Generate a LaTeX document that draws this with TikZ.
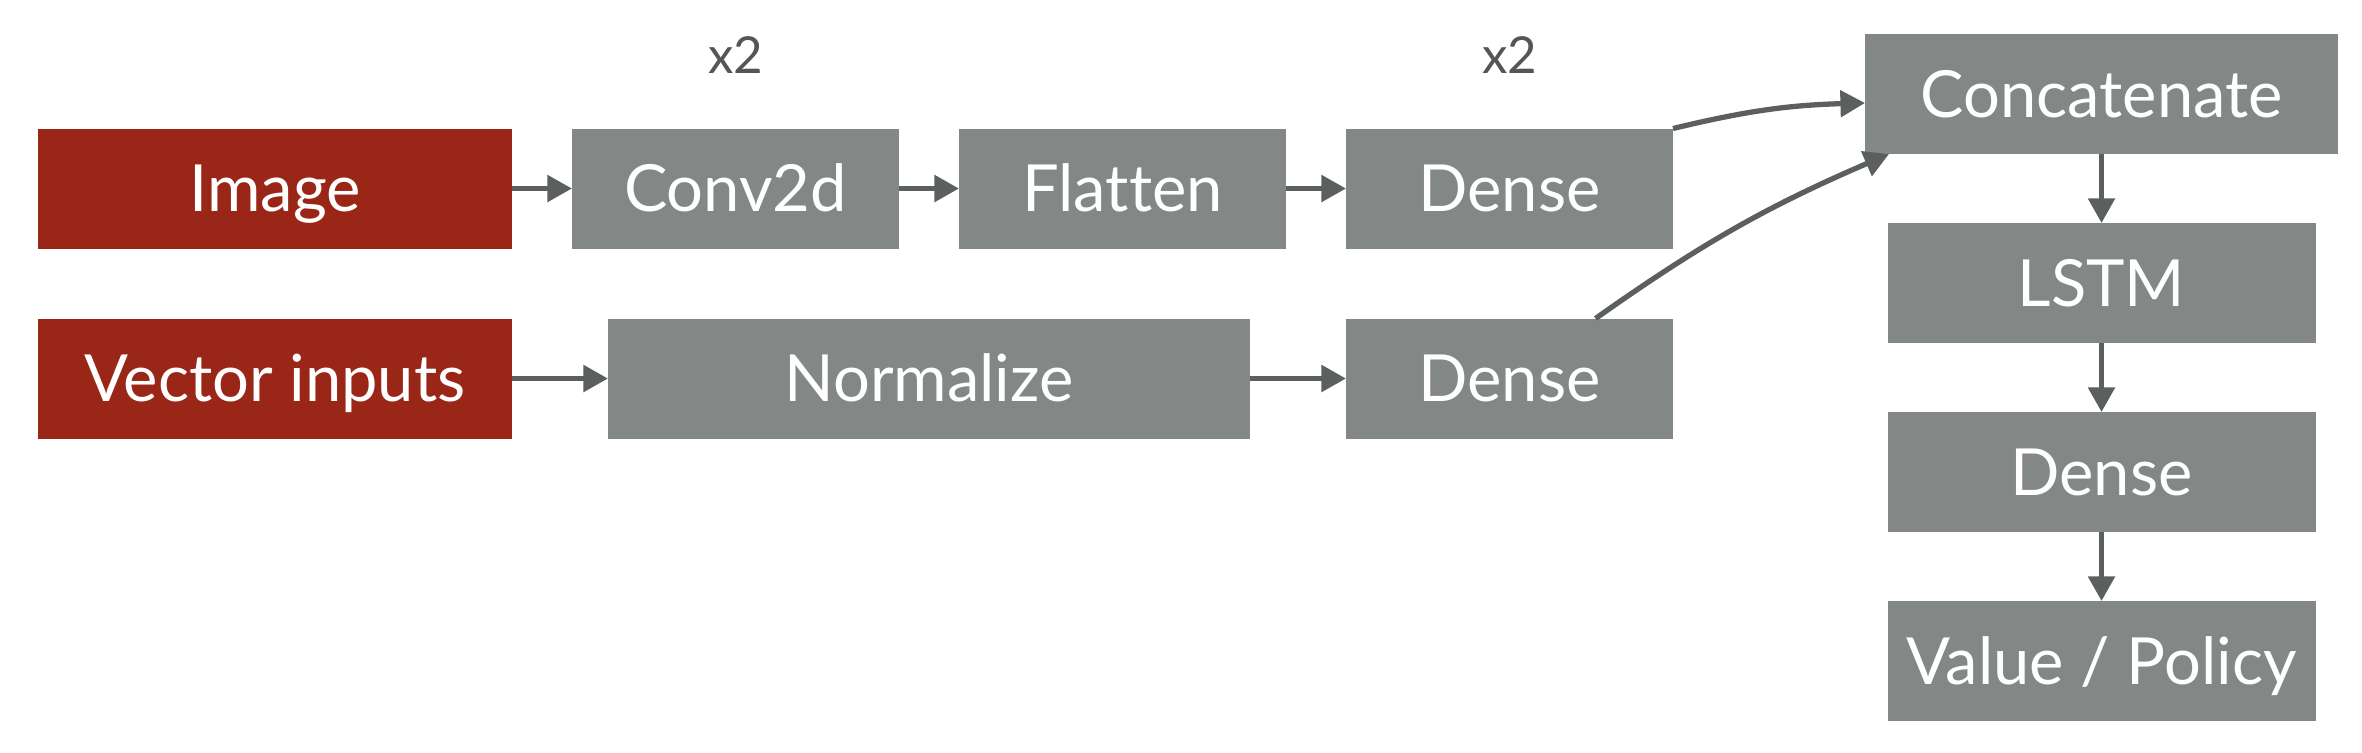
\documentclass[tikz,border=0pt]{standalone}
\usepackage{fontspec}
\setmainfont[Ligatures=NoCommon]{Lato}
\usetikzlibrary{arrows.meta,positioning}
\definecolor{inred}{HTML}{9A2617}
\definecolor{layergray}{HTML}{838886}
\definecolor{arrowgray}{HTML}{5B5F5D}
\definecolor{labelgray}{HTML}{555555}

\begin{document}
\begin{tikzpicture}[node distance=0.6cm]
  \tikzset{
    block/.style={fill=layergray, text=white, inner sep=0pt, outer sep=0pt,
      minimum height=1.2cm, text height=13.3pt, text depth=0pt,
      font=\fontsize{18.5}{22}\selectfont},
    inputbox/.style={block, fill=inred, minimum width=4.74cm},
    layerbox/.style={block, minimum width=3.27cm},
    colbox/.style={block, minimum width=4.28cm},
    replabel/.style={text=labelgray, inner sep=0pt, font=\fontsize{14.5}{17}\selectfont},
    myarrow/.style={-{Triangle[width=7.4pt,length=7pt]}, line width=1.5pt, draw=arrowgray},
  }
  \useasboundingbox (0,0) rectangle (23.62,-7.52);

  % image branch
  \node[inputbox] (image) at (2.75,-1.885) {Image};
  \node[layerbox] (conv) [right=of image] {Conv2d};
  \node[layerbox] (flatten) [right=of conv] {Flatten};
  \node[layerbox] (densea) [right=of flatten] {Dense};
  \node[replabel] (convrep) [above=0.54cm of conv] {x2};
  \node[replabel] (denserep) [above=0.54cm of densea] {x2};

  % vector branch
  \node[inputbox] (vector) [below=0.7cm of image] {Vector inputs};
  \node[layerbox, minimum width=6.42cm] (norm) [right=0.96cm of vector] {Normalize};
  \node[layerbox] (denseb) [right=0.96cm of norm] {Dense};

  % merged part
  \node[colbox, minimum width=4.73cm] (concat) at (21.015,-0.94) {Concatenate};
  \node[colbox] (lstm) [below=0.69cm of concat] {LSTM};
  \node[colbox] (densec) [below=0.69cm of lstm] {Dense};
  \node[colbox] (out) [below=0.69cm of densec] {Value / Policy};

  \draw[myarrow] (image) -- (conv);
  \draw[myarrow] (conv) -- (flatten);
  \draw[myarrow] (flatten) -- (densea);
  \draw[myarrow] (vector) -- (norm);
  \draw[myarrow] (norm) -- (denseb);
  \draw[myarrow] (densea.north east) to[bend left=6] ([yshift=-0.09cm]concat.west);
  \draw[myarrow] ([xshift=0.86cm]denseb.north) to[bend left=6] ([xshift=0.24cm]concat.south west);
  \draw[myarrow] (concat) -- (lstm);
  \draw[myarrow] (lstm) -- (densec);
  \draw[myarrow] (densec) -- (out);

\end{tikzpicture}
\end{document}
